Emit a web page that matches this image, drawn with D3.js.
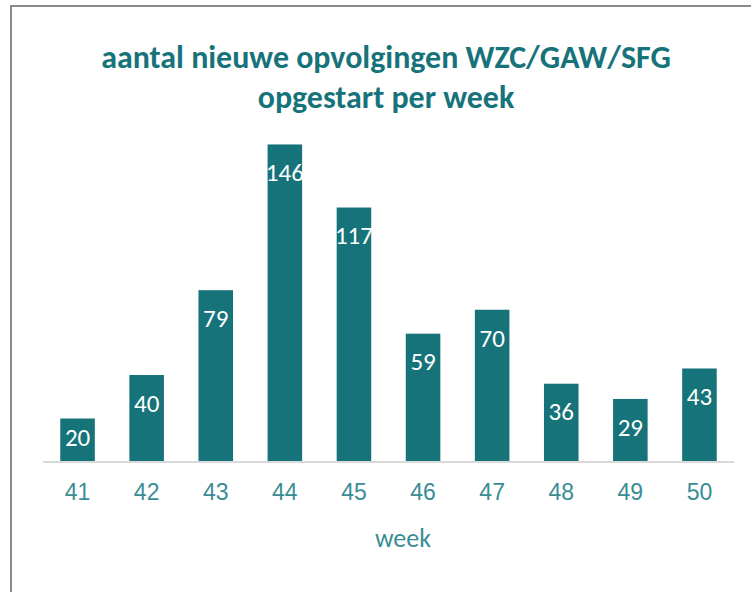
<!DOCTYPE html>
<html>
<head>
<meta charset="utf-8">
<script src="https://cdnjs.cloudflare.com/ajax/libs/d3/7.8.5/d3.min.js"></script>
<style>
  body { margin: 0; background: #fff; }
  svg { display: block; font-family: Carlito, Calibri, Lato, "Open Sans", sans-serif; }
</style>
</head>
<body>
<div id="chart"></div>
<script>
var weeks = ["41", "42", "43", "44", "45", "46", "47", "48", "49", "50"]
var counts = [20, 40, 79, 146, 117, 59, 70, 36, 29, 43]
var titleLines = ["aantal nieuwe opvolgingen WZC/GAW/SFG", "opgestart per week"]
var axisTitle = "week"

var width = 751,
	height = 592
var svg = d3.select("#chart")
	.append("svg")
	.attr("width", width)
	.attr("height", height)

// chart frame (runs past the right and bottom edge)
svg.append("rect")
	.attr("x", 11)
	.attr("y", 6)
	.attr("width", 800)
	.attr("height", 700)
	.attr("fill", "#fff")
	.attr("stroke", "#8a8a8a")
	.attr("stroke-width", 2)

var teal = "#17737a"

// title, sized to the width it takes in the original
var title = svg.append("text")
	.attr("text-anchor", "middle")
	.style("font-weight", "bold")
	.style("fill", teal)
title.selectAll("tspan")
	.data(titleLines)
	.enter().append("tspan")
	.attr("x", 386)
	.attr("y", (d, i) => 68 + i * 40)
	.text(d => d)
title.style("font-size", "26px")
var w1 = title.select("tspan").node().getComputedTextLength()
title.style("font-size", (26 * 570 / w1) + "px")

var x = d3.scaleBand()
	.domain(weeks)
	.range([43, 734])
	.paddingInner(0.5)
	.paddingOuter(0.25)

var y = d3.scaleLinear()
	.domain([0, 160])
	.range([462, 114])

var g = svg.append("g")

g.selectAll(".bar")
	.data(counts)
	.enter().append("rect")
	.attr("class", "bar")
	.attr("x", (d, i) => x(weeks[i]))
	.attr("y", d => y(d))
	.attr("width", x.bandwidth())
	.attr("height", d => y(0) - y(d))
	.attr("fill", teal)

// value labels inside the bar top
g.selectAll(".lbl")
	.data(counts)
	.enter().append("text")
	.attr("class", "lbl")
	.attr("x", (d, i) => x(weeks[i]) + x.bandwidth() / 2)
	.attr("y", d => Math.min(y(d) + 28, (y(d) + y(0)) / 2 - 3))
	.attr("dy", "0.35em")
	.attr("text-anchor", "middle")
	.style("fill", "#fff")
	.style("font-size", "25px")
	.text(d => d)

// x axis
var xAxis = svg.append("g")
	.attr("transform", "translate(0,462)")
	.call(d3.axisBottom(x).tickSize(0).tickPadding(22))
xAxis.select(".domain")
	.attr("stroke", "#d9d9d9")
	.attr("stroke-width", 2)
	.attr("d", "M43,0H734")
xAxis.selectAll("text")
	.style("font-size", "23px")
	.style("fill", "#3a8d93")
	.style("font-family", null)

svg.append("text")
	.attr("x", 403)
	.attr("y", 547)
	.attr("text-anchor", "middle")
	.style("font-size", "26px")
	.style("fill", "#3a8d93")
	.text(axisTitle)
</script>
</body>
</html>
